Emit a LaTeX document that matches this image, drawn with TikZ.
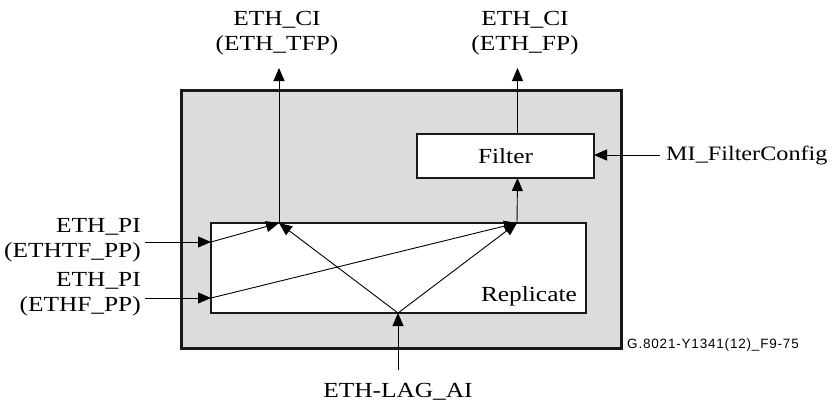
\documentclass[tikz,border=0pt]{standalone}
\usepackage{fontspec}
\setmainfont[FakeStretch=1.18]{Liberation Serif}
\newfontfamily\labelsans[LetterSpace=6]{Liberation Sans}
\usetikzlibrary{arrows.meta}
\definecolor{boxgrey}{HTML}{DCDCDC}
\begin{document}
\begin{tikzpicture}[x=1pt,y=-1pt,
  lbl/.style={font=\fontsize{21.5}{25}\selectfont, inner sep=0pt, align=center},
  blk/.style={draw=black!90, line width=2.5pt, fill=white, inner sep=0pt},
  conn/.style={line width=0.9pt, -{Triangle[length=13pt,width=11pt]}},
]
\useasboundingbox (0,0) rectangle (834,407);
% outer box
\node[draw=black!90, line width=3pt, fill=boxgrey, minimum width=440pt, minimum height=258pt, inner sep=0pt] (outer) at (401,219) {};
% replicate box
\node[blk, minimum width=375pt, minimum height=90pt] (rep) at (398.5,268) {};
\node[lbl, anchor=base east] (reptxt) at (577,301) {Replicate};
% filter box
\node[blk, minimum width=177pt, minimum height=44pt] (filt) at (505.5,156) {};
\node[lbl] (filttxt) at (505.5,156) {Filter};
% connection points
\coordinate (t1) at (279,223);
\coordinate (t2) at (517,223);
\coordinate (bp) at (398,313);
\coordinate (l1) at (211,242);
\coordinate (l2) at (211,298);
\coordinate (top1) at (279,68);
\coordinate (top2) at (517.5,68);
\coordinate (fb) at (517.5,178);
\coordinate (ft) at (517.5,134);
\coordinate (fr) at (594,155);
\coordinate (mis) at (660,155);
\coordinate (pi1) at (145,242);
\coordinate (pi2) at (145,298);
\coordinate (lagb) at (398,370);
% labels
\node[lbl] (ci1) at (277,33) {ETH\_CI\\(ETH\_TFP)};
\node[lbl] (ci2) at (525,33) {ETH\_CI\\(ETH\_FP)};
\node[lbl, anchor=west, font=\fontsize{20.5}{25}\selectfont] (mi) at (666,155) {MI\_FilterConfig};
\node[lbl, align=right, anchor=east] (pi1txt) at (141,240) {ETH\_PI\\(ETHTF\_PP)};
\node[lbl, align=right, anchor=east] (pi2txt) at (141,294) {ETH\_PI\\(ETHF\_PP)};
\node[lbl] (lag) at (398,392) {ETH-LAG\_AI};
\node[font=\labelsans\fontsize{13.5}{15}\selectfont, anchor=base west, inner sep=0pt] (ref) at (627,348) {G.8021-Y1341(12)\_F9-75};
% connectors
\draw[conn] (t1) -- (top1);
\draw[conn] (ft) -- (top2);
\draw[conn] (t2) -- (fb);
\draw[conn] (mis) -- (fr);
\draw[conn] (pi1) -- (l1);
\draw[conn] (pi2) -- (l2);
\draw[conn] (lagb) -- (bp);
\draw[conn] (l1) -- (t1);
\draw[conn] (l2) -- (t2);
\draw[conn] (bp) -- (t1);
\draw[conn] (bp) -- (t2);
\end{tikzpicture}
\end{document}
